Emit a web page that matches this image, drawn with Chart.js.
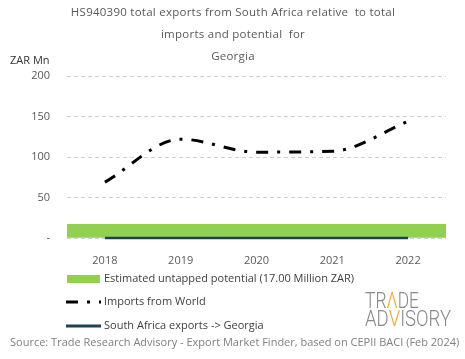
<!DOCTYPE html>
<html>
<head>
<meta charset="utf-8">
<script src="https://cdn.jsdelivr.net/npm/chart.js@4.4.1/dist/chart.umd.min.js"></script>
<style>
  html, body { margin: 0; padding: 0; background: #fff; }
  #wrap { width: 465px; height: 359px; }
</style>
</head>
<body>
<div id="wrap"><canvas id="myChart" width="465" height="359"></canvas></div>
<script>
// data
const years = ["2018", "2019", "2020", "2021", "2022"];
const importsFromWorld = [69, 122, 106, 107, 144];
const saExports = [0, 0, 0, 0, 0];
const untappedPotential = [17, 17, 17, 17, 17];
const yTicks = [0, 50, 100, 150, 200];

const titleLines = [
  "HS940390 total exports from South Africa relative  to total",
  "imports and potential  for",
  "Georgia"
];
const sourceText = "Source: Trade Research Advisory - Export Market Finder, based on CEPII BACI (Feb 2024)";

const FONT = "'Open Sans', 'DejaVu Sans', sans-serif";

// draws the title, axis title, legend, source line and logo
const extrasPlugin = {
  id: "extras",
  afterDraw(chart) {
    const ctx = chart.ctx;
    ctx.save();

    // title
    ctx.fillStyle = "#595959";
    ctx.font = "11.5px " + FONT;
    ctx.letterSpacing = "0.25px";
    ctx.textAlign = "center";
    ctx.textBaseline = "middle";
    titleLines.forEach((t, i) => ctx.fillText(t, 233, 13 + i * 22));
    ctx.letterSpacing = "0px";

    // y axis title
    ctx.fillStyle = "#333";
    ctx.font = "11px " + FONT;
    ctx.textAlign = "left";
    ctx.fillText("ZAR Mn", 10, 61);

    // legend
    const ds = chart.data.datasets;
    const rows = [279, 302, 326];
    ds.forEach((d, i) => {
      const y = rows[i];
      if (d.type === "bar") {
        ctx.fillStyle = d.backgroundColor;
        ctx.fillRect(67, y - 4, 33, 8);
      } else {
        ctx.strokeStyle = d.borderColor;
        ctx.lineWidth = 3;
        ctx.setLineDash(d.borderDash || []);
        ctx.beginPath();
        ctx.moveTo(66, y);
        ctx.lineTo(101, y);
        ctx.stroke();
        ctx.setLineDash([]);
      }
      ctx.fillStyle = "#404040";
      ctx.font = "11px " + FONT;
      ctx.textAlign = "left";
      ctx.fillText(d.label, 104, y);
    });

    // source
    ctx.fillStyle = "#808080";
    ctx.font = "11px " + FONT;
    ctx.fillText(sourceText, 10, 343);

    // logo
    ctx.font = "300 22px Roboto, sans-serif";
    ctx.textBaseline = "alphabetic";
    const drawParts = (parts, x, y, w) => {
      const total = parts.reduce((s, p) => s + ctx.measureText(p[0]).width, 0);
      const k = w / total;
      ctx.save();
      ctx.translate(x, y);
      ctx.scale(k, 1);
      let cx = 0;
      parts.forEach(p => {
        ctx.fillStyle = p[1];
        ctx.fillText(p[0], cx, 0);
        cx += ctx.measureText(p[0]).width;
      });
      ctx.restore();
    };
    drawParts([["TR", "#888"], ["Λ", "#f5a623"], ["DE", "#888"]], 365, 308, 54);
    drawParts([["AD", "#888"], ["V", "#f5a623"], ["ISORY", "#888"]], 365, 326, 86);

    ctx.restore();
  }
};

new Chart(document.getElementById("myChart"), {
  data: {
    labels: years,
    datasets: [
      {
        type: "bar",
        label: "Estimated untapped potential (17.00 Million ZAR)",
        data: untappedPotential,
        backgroundColor: "#92D050",
        barPercentage: 1,
        categoryPercentage: 1,
        order: 3
      },
      {
        type: "line",
        label: "Imports from World",
        data: importsFromWorld,
        borderColor: "#000",
        borderWidth: 3,
        borderDash: [12, 9, 3, 9],
        cubicInterpolationMode: "monotone",
        pointRadius: 0,
        order: 1
      },
      {
        type: "line",
        label: "South Africa exports -> Georgia",
        data: saExports,
        borderColor: "#1B4450",
        borderWidth: 2.5,
        pointRadius: 0,
        clip: false,
        order: 0
      }
    ]
  },
  options: {
    responsive: false,
    animation: false,
    devicePixelRatio: 1,
    layout: { padding: { top: 76, right: 19, bottom: 91, left: 0 } },
    plugins: {
      legend: { display: false },
      title: { display: false },
      tooltip: { enabled: false }
    },
    scales: {
      x: {
        offset: true,
        grid: { display: false },
        border: { display: false },
        ticks: { color: "#595959", font: { size: 11, family: FONT }, padding: 8 },
        afterFit(scale) { scale.height = 30; }
      },
      y: {
        min: 0,
        max: 200,
        afterBuildTicks(scale) { scale.ticks = yTicks.map(v => ({ value: v })); },
        grid: { color: "#cfcfcf", drawTicks: false, borderDash: [4, 3] },
        border: { display: false, dash: [4, 3] },
        ticks: {
          color: "#595959",
          font: { size: 11, family: FONT },
          padding: 17,
          callback: v => (v === 0 ? "-" : v)
        },
        afterFit(scale) { scale.width = 67; }
      }
    }
  },
  plugins: [extrasPlugin]
});
</script>
</body>
</html>
